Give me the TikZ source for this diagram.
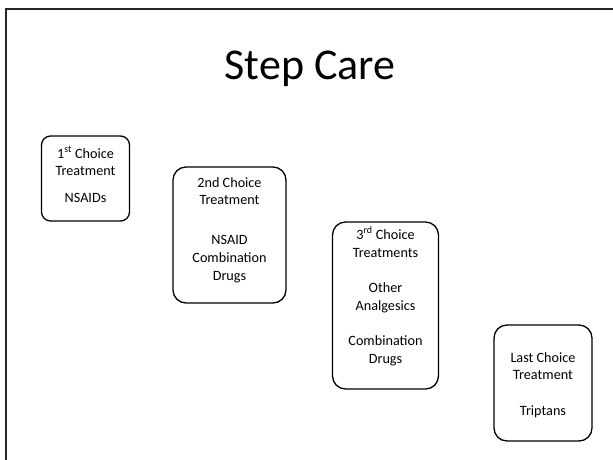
\documentclass[tikz,border=0pt]{standalone}
\usepackage{fontspec}
\setmainfont{Carlito}
\begin{document}
\begin{tikzpicture}[x=1pt,y=-1pt,
  frame/.style={draw=black!85,line width=2pt},
  stepbox/.style={draw=black,line width=1.3pt,rounded corners=11pt,minimum width=#1,inner sep=0pt},
  boxtext/.style={font=\fontsize{14.2}{17}\selectfont,inner sep=0pt,anchor=base},
  titletext/.style={font=\fontsize{44}{50}\selectfont,inner sep=0pt,anchor=base}]
\useasboundingbox (0,0) rectangle (613,459);
\begin{scope}
\clip (0,0) rectangle (613,459);
\draw[frame] (6,9) rectangle (640,480);
\end{scope}
\node[titletext] (title) at (310,79) {Step Care};
% boxes
\node[stepbox=88pt,minimum height=85pt,rounded corners=9pt] (b1) at (85.5,178.5) {};
\node[stepbox=113pt,minimum height=136pt,rounded corners=13pt] (b2) at (229.5,235) {};
\node[stepbox=106pt,minimum height=167pt,rounded corners=13pt] (b3) at (385.5,305.5) {};
\node[stepbox=98pt,minimum height=116pt,rounded corners=13pt] (b4) at (543,383) {};
% texts
\node[boxtext] (t1a) at (85.5,158) {1\textsuperscript{st} Choice};
\node[boxtext] (t1b) at (85.5,175) {Treatment};
\node[boxtext] (t1c) at (85.5,202) {NSAIDs};
\node[boxtext] (t2a) at (229.5,187) {2nd Choice};
\node[boxtext] (t2b) at (229.5,204) {Treatment};
\node[boxtext] (t2c) at (229.5,244) {NSAID};
\node[boxtext] (t2d) at (229.5,262) {Combination};
\node[boxtext] (t2e) at (229.5,280) {Drugs};
\node[boxtext] (t3a) at (385.5,239) {3\textsuperscript{rd} Choice};
\node[boxtext] (t3b) at (385.5,257) {Treatments};
\node[boxtext] (t3c) at (385.5,292) {Other};
\node[boxtext] (t3d) at (385.5,310) {Analgesics};
\node[boxtext] (t3e) at (385.5,345) {Combination};
\node[boxtext] (t3f) at (385.5,363) {Drugs};
\node[boxtext] (t4a) at (543,362) {Last Choice};
\node[boxtext] (t4b) at (543,379) {Treatment};
\node[boxtext] (t4c) at (543,415) {Triptans};
\end{tikzpicture}
\end{document}
